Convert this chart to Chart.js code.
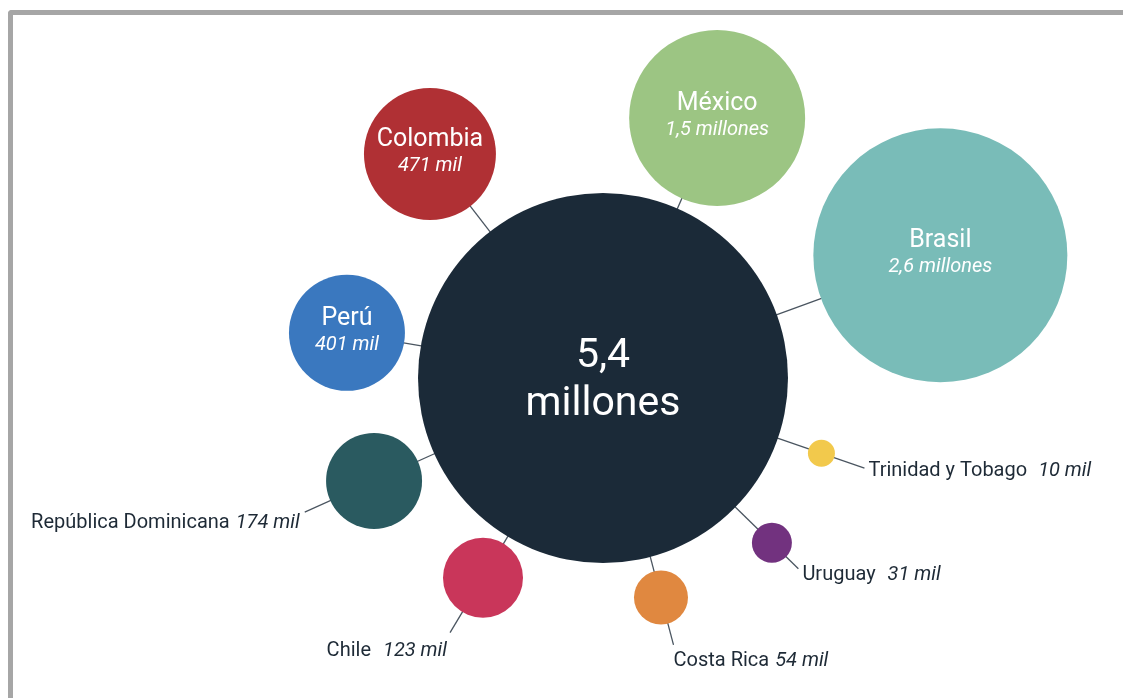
<!DOCTYPE html>
<html>
<head>
<meta charset="utf-8">
<script src="https://cdn.jsdelivr.net/npm/chart.js@4.4.1/dist/chart.umd.min.js"></script>
<style>
  html, body { margin: 0; padding: 0; background: #fff; overflow: hidden; }
  #marco {
    position: absolute; left: 8px; top: 10px; width: 1200px; height: 800px;
    border-left: 5px solid #a6a6a6; border-top: 5px solid #a6a6a6;
    border-top-left-radius: 4px;
  }
  #grafico { position: absolute; left: 0; top: 0; }
</style>
</head>
<body>
<div id="marco"></div>
<canvas id="grafico" width="1123" height="698"></canvas>
<script>
// datos (miles de personas)
const paises = ['Brasil', 'México', 'Colombia', 'Perú', 'República Dominicana', 'Chile', 'Costa Rica', 'Uruguay', 'Trinidad y Tobago'];
const valores = [2600, 1500, 471, 401, 174, 123, 54, 31, 10];
const etiquetas = ['2,6 millones', '1,5 millones', '471 mil', '401 mil', '174 mil', '123 mil', '54 mil', '31 mil', '10 mil'];
const total = 5400;
const totalEtiqueta = ['5,4', 'millones'];

// estilos
const colores = ['#79bcb8', '#9cc583', '#b03034', '#3a78bf', '#2a5a60', '#c9365a', '#e08840', '#72327f', '#f2c94c'];
const colorCentro = '#1b2a38';
const colorTexto = '#1e2a36';
const fuente = 'Roboto, "Open Sans", sans-serif';

// disposicion radial alrededor del circulo central (angulo en grados, distancia y radio en px)
const centro = { x: 603, y: 378, r: 185 };
const disposicion = [
  { ang: -20.0,  dist: 359, r: 127 },
  { ang: -66.3,  dist: 284, r: 88 },
  { ang: -127.7, dist: 283, r: 66 },
  { ang: -170.0, dist: 260, r: 58 },
  { ang: 155.8,  dist: 251, r: 48, ext: 28, tx: -5, ty: 11, align: 'right', sep: 6 },
  { ang: 121.0,  dist: 233, r: 40, ext: 24, tx: -3, ty: 18, align: 'right', sep: 12 },
  { ang: 75.2,   dist: 227, r: 27, ext: 22, tx: 0,  ty: 16, align: 'left', sep: 6 },
  { ang: 44.3,   dist: 236, r: 20, ext: 17, tx: 4,  ty: 6,  align: 'left', sep: 12 },
  { ang: 19.0,   dist: 231, r: 13.5, ext: 32, tx: 4, ty: 3, align: 'left', sep: 11 }
];

function rad(g) { return g * Math.PI / 180; }

const puntos = paises.map((p, i) => {
  const d = disposicion[i];
  return {
    x: centro.x + d.dist * Math.cos(rad(d.ang)),
    y: centro.y + d.dist * Math.sin(rad(d.ang)),
    r: d.r,
    valor: valores[i]
  };
});

const conectores = {
  id: 'conectores',
  beforeDatasetsDraw(chart) {
    const ctx = chart.ctx;
    const c = chart.getDatasetMeta(0).data[0];
    ctx.save();
    ctx.strokeStyle = '#4a5560';
    ctx.lineWidth = 1.3;
    disposicion.forEach((d, i) => {
      const cos = Math.cos(rad(d.ang)), sin = Math.sin(rad(d.ang));
      const d0 = centro.r - 2;
      const d1 = d.ext ? d.dist + d.r + d.ext : d.dist - d.r + 2;
      ctx.beginPath();
      ctx.moveTo(c.x + cos * d0, c.y + sin * d0);
      ctx.lineTo(c.x + cos * d1, c.y + sin * d1);
      ctx.stroke();
    });
    ctx.restore();
  }
};

const rotulos = {
  id: 'rotulos',
  afterDatasetsDraw(chart) {
    const ctx = chart.ctx;
    const c = chart.getDatasetMeta(0).data[0];
    ctx.save();
    ctx.textBaseline = 'middle';
    ctx.textAlign = 'center';
    ctx.fillStyle = '#ffffff';
    ctx.font = '41px ' + fuente;
    ctx.fillText(totalEtiqueta[0], c.x, c.y - 21);
    ctx.fillText(totalEtiqueta[1], c.x, c.y + 27);

    const meta = chart.getDatasetMeta(1);
    disposicion.forEach((d, i) => {
      const el = meta.data[i];
      if (!d.ext) {
        ctx.textAlign = 'center';
        ctx.fillStyle = '#ffffff';
        ctx.font = '25px ' + fuente;
        ctx.fillText(paises[i], el.x, el.y - 14);
        ctx.font = 'italic 20px ' + fuente;
        ctx.fillText(etiquetas[i], el.x, el.y + 12);
      } else {
        const cos = Math.cos(rad(d.ang)), sin = Math.sin(rad(d.ang));
        const ex = el.x + cos * (d.r + d.ext) + d.tx;
        const ey = el.y + sin * (d.r + d.ext) + d.ty;
        ctx.fillStyle = colorTexto;
        ctx.textAlign = 'left';
        ctx.font = '20px ' + fuente;
        const wNombre = ctx.measureText(paises[i]).width + d.sep;
        ctx.font = 'italic 20px ' + fuente;
        const wValor = ctx.measureText(etiquetas[i]).width;
        const x0 = d.align === 'right' ? ex - wNombre - wValor : ex;
        ctx.font = '20px ' + fuente;
        ctx.fillText(paises[i], x0, ey);
        ctx.font = 'italic 20px ' + fuente;
        ctx.fillText(etiquetas[i], x0 + wNombre, ey);
      }
    });
    ctx.restore();
  }
};

new Chart(document.getElementById('grafico').getContext('2d'), {
  type: 'bubble',
  data: {
    datasets: [{
      label: 'Total',
      data: [{ x: centro.x, y: centro.y, r: centro.r, valor: total }],
      backgroundColor: colorCentro,
      borderWidth: 0,
      hoverRadius: 0
    }, {
      label: 'Países',
      data: puntos,
      backgroundColor: colores,
      borderWidth: 0,
      hoverRadius: 0
    }]
  },
  options: {
    responsive: false,
    animation: false,
    events: [],
    clip: false,
    layout: { padding: 0, autoPadding: false },
    plugins: { legend: { display: false }, tooltip: { enabled: false } },
    scales: {
      x: { type: 'linear', min: 0, max: 1123, display: false },
      y: { type: 'linear', min: 0, max: 698, reverse: true, display: false }
    }
  },
  plugins: [conectores, rotulos]
});
</script>
</body>
</html>
